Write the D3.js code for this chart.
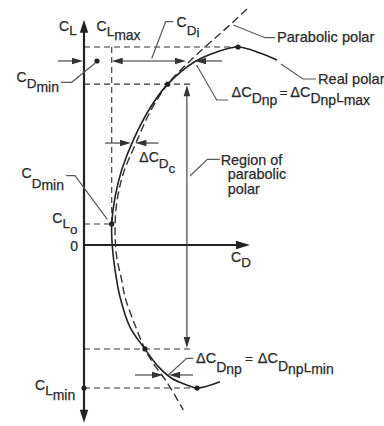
<!DOCTYPE html>
<html>
<head>
<meta charset="utf-8">
<script src="https://cdn.jsdelivr.net/npm/d3@7"></script>
<style>
  html, body { margin: 0; padding: 0; background: #fff; }
  svg { display: block; }
  text { font-family: "Liberation Sans", Arial, Helvetica, sans-serif; fill: #2b2b2b; stroke: #2b2b2b; stroke-width: 0.25px; }
</style>
</head>
<body>
<div id="chart"></div>
<script>
// Drag polar: real polar vs. parabolic polar (schematic, arbitrary units)

// Real polar, listed from the high-lift end round to the low-lift end
const realCD = [0.1162, 0.1060, 0.0928, 0.0801, 0.0669, 0.0504, 0.0398, 0.0297, 0.0227, 0.0187, 0.0167, 0.0170, 0.0187, 0.0217, 0.0277, 0.0367, 0.0448, 0.0528, 0.0619, 0.0681, 0.0819];
const realCL = [1.495, 1.552, 1.600, 1.560, 1.483, 1.300, 1.107, 0.848, 0.606, 0.388, 0.170, 0.000, -0.202, -0.420, -0.663, -0.840, -0.983, -1.077, -1.131, -1.156, -1.105];

// Parabolic polar
const paraCD = [0.0982, 0.0890, 0.0799, 0.0649, 0.0504, 0.0398, 0.0313, 0.0237, 0.0197, 0.0187, 0.0197, 0.0227, 0.0247, 0.0307, 0.0367, 0.0417, 0.0498, 0.0598];
const paraCL = [1.907, 1.792, 1.683, 1.501, 1.300, 1.075, 0.824, 0.579, 0.337, 0.105, -0.097, -0.283, -0.420, -0.646, -0.840, -0.956, -1.105, -1.333];

// Characteristic values
const clMax = 1.600, cdAtClMax = 0.0928;
const clMin = -1.156, cdAtClMin = 0.0681;
const clZero = 0.170, cdMin = 0.0167;          // C_Lo and C_Dmin
const clFitHigh = 1.300, cdFitHigh = 0.0504;   // upper end of the parabolic region
const clFitLow = -0.840, cdFitLow = 0.0367;    // lower end of the parabolic region
const cdMinGap = 0.0078;                       // width marker for C_Dmin

// Levels of the dimension arrows
const clDimTop = 1.487, cdInducedEnd = 0.0614, cdRealTop = 0.0669;
const clDimCamber = 0.824, cdCamberReal = 0.0283, cdCamberPara = 0.0310;
const clDimBottom = -1.0505, cdBottomPara = 0.0476, cdBottomReal = 0.0512;
const cdRegion = 0.0620, cdDashEnd = 0.0639;

// Axis extents
const cdAxisMax = 0.1, clAxisTop = 1.82, clAxisBottom = -1.436;
const clTicks = [0];

const W = 384, H = 426;
const svg = d3.select("#chart").append("svg").attr("width", W).attr("height", H);

const x = d3.scaleLinear().domain([0, cdAxisMax]).range([84, 250]);
const y = d3.scaleLinear().domain([0, clMax]).range([245, 47]);

const ink = "#222", lead = "#5a5a5a";

// ---------- helpers ----------
function head(px, py, ang, len, hw, color) {
  const c = Math.cos(ang), s = Math.sin(ang);
  const bx = px - c * len, by = py - s * len;
  svg.append("path")
    .attr("d", `M${px},${py}L${bx - s * hw},${by + c * hw}L${bx + s * hw},${by - c * hw}Z`)
    .attr("fill", color);
}
function dim(x1, y1, x2, y2, o) {
  const len = o.len || 11, hw = o.hw || 3.3, color = o.color || "#333", sw = o.sw || 1.1;
  const ang = Math.atan2(y2 - y1, x2 - x1);
  const c = Math.cos(ang), s = Math.sin(ang);
  let ax = x1, ay = y1, bx = x2, by = y2;
  if (o.start) { ax += c * (len - 1); ay += s * (len - 1); head(x1, y1, ang + Math.PI, len, hw, color); }
  if (o.end) { bx -= c * (len - 1); by -= s * (len - 1); head(x2, y2, ang, len, hw, color); }
  svg.append("line").attr("x1", ax).attr("y1", ay).attr("x2", bx).attr("y2", by)
    .attr("stroke", color).attr("stroke-width", sw);
}
function dashed(x1, y1, x2, y2) {
  svg.append("line").attr("x1", x1).attr("y1", y1).attr("x2", x2).attr("y2", y2)
    .attr("stroke", "#333").attr("stroke-width", 1.1).attr("stroke-dasharray", "6,4");
}
function leader(pts) {
  svg.append("polyline").attr("points", pts.map(p => p.join(",")).join(" "))
    .attr("fill", "none").attr("stroke", lead).attr("stroke-width", 1.2);
}
function label(x0, y0, parts) {
  const t = svg.append("text").attr("x", x0).attr("y", y0);
  let prev = 0;
  parts.forEach(([s, off, fs, dx]) => {
    t.append("tspan").attr("dy", off - prev).attr("dx", dx || 0).attr("font-size", fs).text(s);
    prev = off;
  });
  return t;
}

// ---------- reference dashed lines ----------
dashed(x(0), y(clMax), x(cdAtClMax), y(clMax));
dashed(x(0), y(clFitHigh), x(cdDashEnd), y(clFitHigh));
dashed(x(cdMin), y(clMax), x(cdMin), y(clZero));
dashed(x(0), y(clZero), x(cdMin), y(clZero));
dashed(x(0), y(clFitLow), x(cdDashEnd), y(clFitLow));
dashed(x(0), y(clMin), x(cdAtClMin), y(clMin));

// ---------- axes ----------
svg.append("line").attr("x1", x(0)).attr("y1", y(clAxisBottom) - 10).attr("x2", x(0)).attr("y2", y(clAxisTop) + 10)
  .attr("stroke", ink).attr("stroke-width", 2.2);
head(x(0), y(clAxisTop), -Math.PI / 2, 13, 4.2, ink);
head(x(0), y(clAxisBottom), Math.PI / 2, 13, 4.2, ink);
svg.append("line").attr("x1", x(0)).attr("y1", y(0)).attr("x2", x(cdAxisMax) - 10).attr("y2", y(0))
  .attr("stroke", ink).attr("stroke-width", 2.2);
head(x(cdAxisMax), y(0), 0, 14, 4.2, ink);

const yAxis = svg.append("g").attr("transform", `translate(${x(0)},0)`)
  .call(d3.axisLeft(y).tickValues(clTicks).tickSize(0).tickPadding(6).tickFormat(d3.format("d")));
yAxis.select(".domain").remove();
yAxis.selectAll("text").attr("font-size", 14).attr("font-family", null).attr("fill", null).attr("dy", "0.42em");

// ---------- polars ----------
const line = d3.line().x(d => x(d[0])).y(d => y(d[1])).curve(d3.curveCatmullRom.alpha(0.5));
svg.append("path").datum(paraCD.map((d, i) => [d, paraCL[i]])).attr("d", line)
  .attr("fill", "none").attr("stroke", "#333").attr("stroke-width", 1.4).attr("stroke-dasharray", "8,4");
svg.append("path").datum(realCD.map((d, i) => [d, realCL[i]])).attr("d", line)
  .attr("fill", "none").attr("stroke", ink).attr("stroke-width", 1.6);

// ---------- points ----------
const dots = [[cdMinGap, clDimTop], [cdAtClMax, clMax], [cdFitHigh, clFitHigh], [cdMin, clZero],
              [cdFitLow, clFitLow], [cdAtClMin, clMin], [0, clMin]];
svg.selectAll("circle.pt").data(dots).join("circle").attr("class", "pt")
  .attr("cx", d => x(d[0])).attr("cy", d => y(d[1])).attr("r", 2.6).attr("fill", ink);

// ---------- dimension arrows ----------
dim(x(0) - 26, y(clDimTop), x(0) - 1, y(clDimTop), { end: true });
dim(x(cdMin), y(clDimTop), x(cdInducedEnd), y(clDimTop), { start: true, end: true });
dim(x(cdRealTop) + 27, y(clDimTop), x(cdRealTop), y(clDimTop), { end: true });
dim(x(cdCamberReal) - 26, y(clDimCamber), x(cdCamberReal), y(clDimCamber), { end: true });
dim(x(cdCamberPara) + 23, y(clDimCamber), x(cdCamberPara), y(clDimCamber), { end: true });
dim(x(cdBottomPara) - 28, y(clDimBottom), x(cdBottomPara), y(clDimBottom), { end: true });
dim(x(cdBottomReal) + 24, y(clDimBottom), x(cdBottomReal), y(clDimBottom), { end: true });
dim(x(cdRegion), y(clFitHigh) + 1, x(cdRegion), y(clFitLow) - 1, { start: true, end: true });

// ---------- leaders ----------
leader([[233.3, 25], [265, 37.7], [275, 37.7]]);
leader([[281, 64], [303, 79], [316, 79]]);
leader([[151.7, 58.5], [165.7, 21.7], [173.3, 21.7]]);
leader([[196.5, 65], [216.7, 100], [228, 100]]);
leader([[190, 176], [207.3, 159.3], [220, 159.3]]);
leader([[60.7, 82.3], [71.7, 82.3], [95, 63.3]]);
leader([[66, 175.7], [75, 175.7], [107.3, 219.3]]);
leader([[168.3, 375], [186.7, 358.3], [193.3, 358.3]]);

// ---------- labels ----------
label(59, 31, [["C", 0, 14], ["L", 4, 13.5]]);
label(96.5, 31, [["C", 0, 14], ["L", 4.5, 13.5], ["max", 9, 14]]);
label(176.5, 27, [["C", 0, 14], ["D", 8, 13.5], ["i", 10, 13.5]]);
label(16.5, 81.7, [["C", 0, 14], ["D", 6.6, 13.5], ["min", 10, 14]]);
label(21.5, 178.3, [["C", 0, 14], ["D", 10, 13.5], ["min", 11.7, 14]]);
label(52.3, 223.3, [["C", 0, 14], ["L", 5, 13.5], ["o", 11, 13.5]]);
label(35, 390, [["C", 0, 14], ["L", 5, 13.5], ["min", 10, 14]]);
label(231, 261.7, [["C", 0, 14], ["D", 5, 13.5]]);
label(139.3, 162.3, [["ΔC", 0, 14], ["D", 6, 13.5], ["c", 10.4, 13.5]]);
label(231.5, 97.3, [["ΔC", 0, 14.5], ["D", 6, 14], ["np", 7.7, 14], ["=", 0, 13.5, 2], ["ΔC", 0, 14.5, 3],
                    ["D", 6, 14], ["np", 7.7, 14], ["L", 4.4, 13.5], ["max", 7.7, 14]]);
label(196, 363.3, [["ΔC", 0, 14.5], ["D", 8.4, 14], ["np", 10.7, 14], ["=", 0, 13.5, 3], ["ΔC", 0, 14.5, 5],
                   ["D", 8, 14], ["np", 10.7, 14], ["L", 8.7, 13.5], ["min", 10.7, 14]]);
label(277, 41.7, [["Parabolic polar", 0, 14.6]]);
label(318, 83.5, [["Real polar", 0, 14.6]]);
label(220.7, 165, [["Region of", 0, 14.4]]);
label(227.7, 179.3, [["parabolic", 0, 14.4]]);
label(227.7, 194, [["polar", 0, 14.4]]);
</script>
</body>
</html>
